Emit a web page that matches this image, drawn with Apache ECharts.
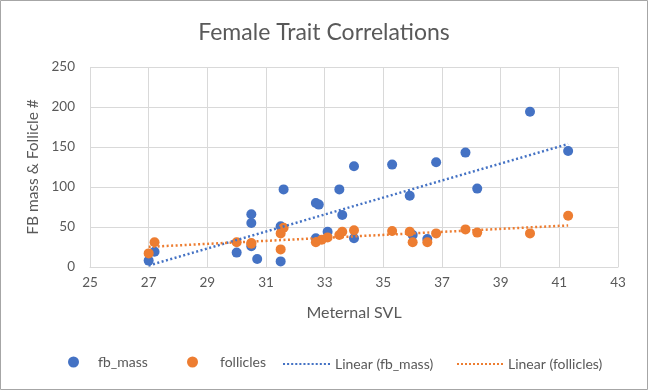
<!DOCTYPE html>
<html>
<head>
<meta charset="utf-8">
<script src="https://cdn.jsdelivr.net/npm/echarts@6/dist/echarts.min.js"></script>
<style>
html,body{margin:0;padding:0;background:#fff;}
#chart{width:648px;height:390px;}
</style>
</head>
<body>
<div id="chart"></div>
<script>
// Data
const titleText = "Female Trait Correlations";
const xAxisTitle = "Meternal SVL";
const yAxisTitle = "FB mass & Follicle #";
const seriesNames = ["fb_mass", "follicles", "Linear (fb_mass)", "Linear (follicles)"];

const fbX    = [27.0, 27.2, 30.0, 30.5, 30.5, 30.5, 30.7, 31.5, 31.5, 31.6, 32.7, 32.8, 32.7, 33.1, 33.5, 33.6, 34.0, 34.0, 35.3, 35.9, 36.0, 36.5, 36.8, 37.8, 38.2, 40.0, 41.3];
const fbMass = [8,    19,   18,   66,   55,   26,   10,   7,    51,   97,   80,   78,   36,   44,   97,   65,   126,  36,   128,  89,   40,   35,   131,  143,  98,   194,  145];

const follX     = [27.0, 27.2, 30.0, 30.5, 30.5, 31.5, 31.5, 31.6, 32.7, 32.9, 33.1, 33.5, 33.6, 34.0, 35.3, 35.9, 36.0, 36.5, 36.8, 37.8, 38.2, 40.0, 41.3];
const follicles = [17,   31,   31,   29,   30,   22,   42,   49,   31,   34,   37,   40,   44,   46,   45,   44,   31,   31,   42,   47,   43,   42,   64];

const xTicks = {min: 25, max: 43, interval: 2};
const yTicks = {min: 0, max: 250, interval: 50};

function pairs(xs, ys){ return xs.map((x,i)=>[x, ys[i]]); }
function trend(xs, ys){
  const n = xs.length;
  const mx = xs.reduce((a,b)=>a+b,0)/n, my = ys.reduce((a,b)=>a+b,0)/n;
  let sxy=0, sxx=0;
  for(let i=0;i<n;i++){ sxy += (xs[i]-mx)*(ys[i]-my); sxx += (xs[i]-mx)*(xs[i]-mx); }
  const b = sxy/sxx, a = my - b*mx;
  const x0 = Math.min(...xs), x1 = Math.max(...xs);
  return [[x0, a+b*x0],[x1, a+b*x1]];
}

const BLUE = '#4472C4', ORANGE = '#ED7D31', TXT = '#595959', GRID = '#d9d9d9';
const FONT = 'Lato, "Liberation Sans", sans-serif';

let dots = '';
for (let i = 0; i <= 44; i += 4) dots += 'M' + i + ',0h2v2h-2z ';
const dotIcon = 'path://' + dots;

const chart = echarts.init(document.getElementById('chart'));
const lt = {color: TXT, fontSize: 14, fontFamily: FONT};
chart.setOption({
  animation: false,
  backgroundColor: '#fff',
  title: {
    text: titleText, left: 'center', top: 16,
    textStyle: {color: TXT, fontSize: 23, fontWeight: 'normal', fontFamily: FONT}
  },
  legend: [
    {data: [{name: seriesNames[0], icon: 'circle'}], left: 63, top: 350, itemWidth: 11, itemHeight: 11,
     textStyle: Object.assign({}, lt, {padding: [0,0,0,14]})},
    {data: [{name: seriesNames[1], icon: 'circle'}], left: 182, top: 350, itemWidth: 11, itemHeight: 11,
     textStyle: Object.assign({}, lt, {padding: [0,0,0,17]})},
    {data: [{name: seriesNames[2], icon: dotIcon}], left: 278, top: 352, itemWidth: 47, itemHeight: 2.5, textStyle: lt},
    {data: [{name: seriesNames[3], icon: dotIcon}], left: 452, top: 352, itemWidth: 46, itemHeight: 2.5, textStyle: lt}
  ],
  grid: {left: 90, right: 30, top: 67, bottom: 123, containLabel: false},
  xAxis: {
    type: 'value', min: xTicks.min, max: xTicks.max, interval: xTicks.interval,
    name: xAxisTitle, nameLocation: 'middle', nameGap: 38,
    nameTextStyle: {color: TXT, fontSize: 16, fontFamily: FONT},
    axisLine: {show: true, lineStyle: {color: GRID, width: 1}},
    axisTick: {show: false},
    axisLabel: {color: TXT, fontSize: 13.5, fontFamily: FONT, margin: 9},
    splitLine: {show: true, lineStyle: {color: GRID, width: 1}}
  },
  yAxis: {
    type: 'value', min: yTicks.min, max: yTicks.max, interval: yTicks.interval,
    name: yAxisTitle, nameLocation: 'middle', nameGap: 47,
    nameTextStyle: {color: TXT, fontSize: 15.5, fontFamily: FONT},
    axisLine: {show: false},
    axisTick: {show: false},
    axisLabel: {color: TXT, fontSize: 13.5, fontFamily: FONT, margin: 15},
    splitLine: {show: true, lineStyle: {color: GRID, width: 1}}
  },
  graphic: [{
    type: 'rect', silent: true, z: 100,
    shape: {x: 0.5, y: 0.5, width: 647, height: 389},
    style: {fill: 'none', stroke: '#a6a6a6', lineWidth: 1}
  }, {
    type: 'line', silent: true, z: 100,
    shape: {x1: 618.5, y1: 67, x2: 618.5, y2: 267},
    style: {stroke: GRID, lineWidth: 1}
  }],
  series: [
    {name: seriesNames[0], type: 'scatter', data: pairs(fbX, fbMass), symbolSize: 10,
     itemStyle: {color: BLUE, opacity: 1}},
    {name: seriesNames[1], type: 'scatter', data: pairs(follX, follicles), symbolSize: 10,
     itemStyle: {color: ORANGE, opacity: 1}},
    {name: seriesNames[2], type: 'line', data: trend(fbX, fbMass), showSymbol: false, symbol: 'none',
     lineStyle: {color: BLUE, width: 2.5, type: [2, 2.5]}, itemStyle: {color: BLUE}, z: 5},
    {name: seriesNames[3], type: 'line', data: trend(follX, follicles), showSymbol: false, symbol: 'none',
     lineStyle: {color: ORANGE, width: 2.5, type: [2, 2.5]}, itemStyle: {color: ORANGE}, z: 5}
  ]
});
</script>
</body>
</html>
